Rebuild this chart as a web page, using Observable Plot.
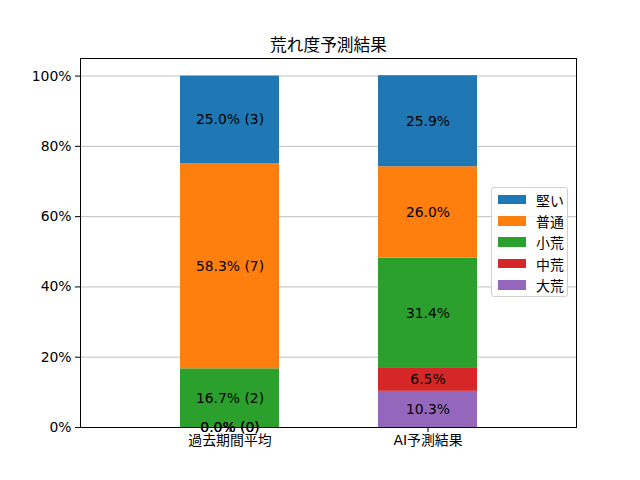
<!DOCTYPE html>
<html>
<head>
<meta charset="utf-8">
<script src="https://cdn.jsdelivr.net/npm/d3@7"></script>
<script src="https://cdn.jsdelivr.net/npm/@observablehq/plot@0.6"></script>
<style>
  html, body { margin: 0; padding: 0; background: #fff; }
  #wrap { position: relative; width: 640px; height: 480px; font-family: "DejaVu Sans", "Noto Sans CJK JP", sans-serif; }
  #legend { position: absolute; left: 491px; top: 187px; width: 77px; box-sizing: border-box;
    border: 1px solid #d0d0d0; border-radius: 3px; background: rgba(255,255,255,0.8);
    padding: 1px 0 1px 6px; font-size: 13.9px; color: #000; }
  #legend .row { display: flex; align-items: center; height: 21.3px; }
  #legend .sw { width: 28px; height: 9.7px; margin-right: 10px; }
</style>
</head>
<body>
<div id="wrap"><div id="legend"></div></div>
<script>
const categories = ["過去期間平均", "AI予測結果"];
const levels = ["大荒", "中荒", "小荒", "普通", "堅い"];          // bottom to top
const legendOrder = ["堅い", "普通", "小荒", "中荒", "大荒"];
const colors = ["#1f77b4", "#ff7f0e", "#2ca02c", "#d62728", "#9467bd"]; // for legendOrder
const pastValues = [0.0, 0.0, 16.7, 58.3, 25.0];
const pastCounts = [0, 0, 2, 7, 3];
const aiValues = [10.3, 6.5, 31.4, 26.0, 25.9];
const yTicks = [0, 20, 40, 60, 80, 100];
const title = "荒れ度予測結果";

const rows = [];
levels.forEach((lv, i) => rows.push({cat: categories[0], level: lv, value: pastValues[i],
  label: `${pastValues[i].toFixed(1)}% (${pastCounts[i]})`}));
levels.forEach((lv, i) => rows.push({cat: categories[1], level: lv, value: aiValues[i],
  label: `${aiValues[i].toFixed(1)}%`}));

const font = `"DejaVu Sans", "Noto Sans CJK JP", sans-serif`;

const chart = Plot.plot({
  width: 640,
  height: 480,
  marginLeft: 80,
  marginRight: 64,
  marginTop: 58,
  marginBottom: 53,
  style: {fontFamily: font, fontSize: "13.9px", color: "#000", background: "#fff"},
  x: {domain: categories, paddingInner: 0.5, paddingOuter: 0.5, label: null, tickSize: 5, tickPadding: 3},
  y: {domain: [0, 105], ticks: yTicks, tickFormat: d => d + "%", label: null, tickSize: 5, tickPadding: 4},
  color: {domain: legendOrder, range: colors},
  marks: [
    Plot.gridY(yTicks, {stroke: "#b0b0b0", strokeOpacity: 1, strokeWidth: 0.8}),
    Plot.barY(rows, Plot.stackY({x: "cat", y: "value", fill: "level", order: null})),
    Plot.text(rows, Plot.stackY({x: "cat", y: "value", text: "label", order: null,
      fill: "#000", fontSize: 13.9})),
    Plot.frame({stroke: "#000", strokeWidth: 1}),
    Plot.axisX({tickSize: 5, tickPadding: 3, fontSize: 13.9}),
    Plot.axisY({ticks: yTicks, tickFormat: d => d + "%", tickSize: 5, tickPadding: 4, fontSize: 13.9}),
    Plot.text([title], {frameAnchor: "top", dy: -8, lineAnchor: "bottom", fontSize: 16.7, fill: "#000"})
  ]
});
document.getElementById("wrap").prepend(chart);

const legend = document.getElementById("legend");
legendOrder.forEach((lv, i) => {
  const r = document.createElement("div");
  r.className = "row";
  r.innerHTML = `<div class="sw" style="background:${colors[i]}"></div><span>${lv}</span>`;
  legend.appendChild(r);
});
</script>
</body>
</html>
